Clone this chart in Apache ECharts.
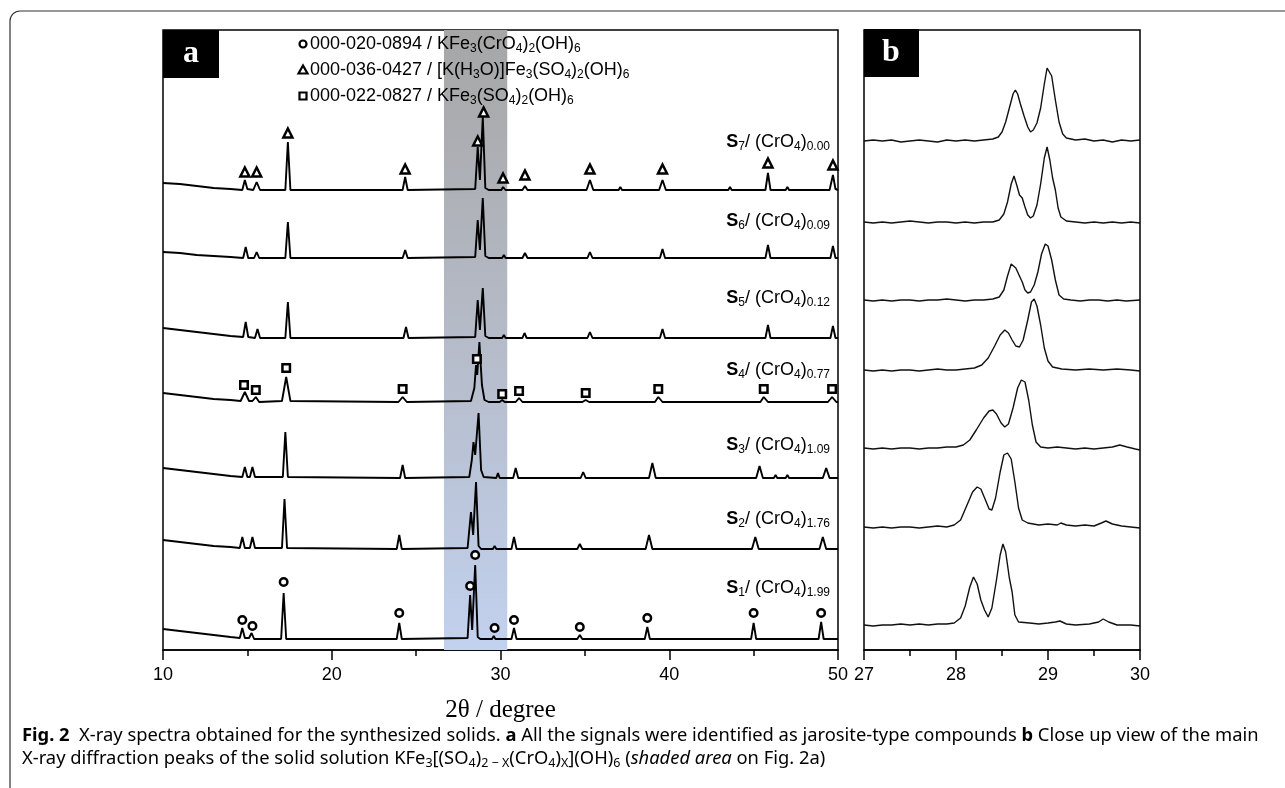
<!DOCTYPE html>
<html><head><meta charset="utf-8">
<script src="https://cdn.jsdelivr.net/npm/echarts@6/dist/echarts.min.js"></script>
<style>html,body{margin:0;padding:0;background:#fff}#c{width:1285px;height:788px}</style>
</head><body><div id="c"></div>
<script>
// ---------- Panel a: full patterns (2θ, stacked intensity a.u.) ----------
const s7a = [[10,467],[11,466],[12,464],[13,462],[14,461],[14.7,460],[14.85,470],[15.0,461],[15.35,460],[15.55,468],[15.75,460],[17.25,460],[17.4,508],[17.55,460],[22,460],[24.2,460],[24.35,473],[24.5,460],[28.5,461],[28.65,503],[28.78,470],[28.95,533],[29.1,462],[29.3,460],[30.05,460],[30.15,463],[30.3,460],[31.3,460],[31.45,464],[31.6,460],[35.1,460],[35.3,470],[35.5,460],[37.0,460],[37.1,463],[37.2,460],[39.4,460],[39.6,470],[39.8,460],[43.5,460],[43.6,463],[43.7,460],[45.7,460],[45.85,477],[46.0,460],[46.9,460],[47.0,463],[47.1,460],[49.5,460],[49.7,475],[49.85,461],[50,460]];
const s6a = [[10,398],[11,397],[12,395],[13,394],[14,393],[14.75,392],[14.9,403],[15.05,392],[15.4,392],[15.55,398],[15.7,392],[17.25,392],[17.4,428],[17.55,392],[24.2,392],[24.35,400],[24.5,392],[28.5,393],[28.65,430],[28.78,400],[28.95,452],[29.1,394],[29.3,392],[30.1,392],[30.2,395],[30.3,392],[31.3,392],[31.45,397],[31.6,392],[35.15,392],[35.3,398],[35.45,392],[37.0,392],[37.1,394],[37.2,392],[39.45,392],[39.6,401],[39.75,392],[45.7,392],[45.85,405],[46.0,392],[46.9,392],[47.0,394],[47.1,392],[49.55,392],[49.7,404],[49.85,392],[50,392]];
const s5a = [[10,322],[11,320],[12,318],[13,316],[14,314],[14.75,313],[14.9,328],[15.05,313],[15.45,312],[15.6,321],[15.75,312],[17.25,312],[17.4,348],[17.55,312],[24.25,312],[24.4,323],[24.55,312],[28.5,313],[28.65,350],[28.78,320],[28.95,362],[29.1,314],[29.3,312],[30.1,312],[30.2,315],[30.3,312],[31.3,312],[31.42,317],[31.55,312],[35.15,312],[35.3,318],[35.45,312],[39.45,312],[39.6,321],[39.75,312],[45.7,312],[45.85,325],[46.0,312],[46.9,312],[47.0,314],[47.1,312],[49.55,312],[49.7,324],[49.85,312],[50,312]];
const s4a = [[10,257],[11,255],[12,253],[13,251],[14,250],[14.6,249],[14.85,258],[15.1,249],[15.3,249],[15.5,253],[15.7,248],[17.05,249],[17.3,273],[17.55,249],[23.95,248],[24.2,253],[24.45,248],[28.25,249],[28.45,262],[28.55,285],[28.62,275],[28.75,308],[28.9,265],[29.05,250],[29.3,248],[29.95,248],[30.1,250],[30.25,248],[30.9,248],[31.1,252],[31.3,248],[34.85,248],[35.05,250],[35.25,248],[39.15,248],[39.35,253],[39.6,248],[45.4,248],[45.6,253],[45.85,248],[49.4,248],[49.65,253],[49.9,248],[50,248]];
const s3a = [[10,182],[11,180],[12,178],[13,176],[14,174],[14.7,173],[14.85,183],[15.0,173],[15.15,173],[15.3,183],[15.45,173],[17.1,173],[17.25,218],[17.4,173],[24.05,172],[24.2,185],[24.35,172],[28.15,173],[28.3,190],[28.4,208],[28.5,195],[28.7,237],[28.85,180],[29.0,173],[29.75,172],[29.85,177],[29.95,172],[30.75,172],[30.9,182],[31.05,172],[34.75,172],[34.9,178],[35.05,172],[38.8,172],[39.0,187],[39.2,172],[45.15,172],[45.35,184],[45.55,172],[46.2,172],[46.3,175],[46.4,172],[46.9,172],[47.0,175],[47.1,172],[49.1,172],[49.3,182],[49.5,172],[50,172]];
const s2a = [[10,110],[11,108],[12,106],[13,104],[14,103],[14.55,102],[14.7,113],[14.85,102],[15.15,102],[15.3,113],[15.45,102],[17.05,102],[17.2,151],[17.35,102],[23.85,101],[24.0,115],[24.15,101],[28.05,102],[28.25,138],[28.38,115],[28.55,168],[28.7,104],[28.85,101],[29.55,101],[29.65,104],[29.75,101],[30.65,101],[30.8,113],[30.95,101],[34.55,101],[34.7,106],[34.85,101],[38.6,101],[38.8,115],[39.0,101],[44.9,101],[45.1,113],[45.3,101],[46.1,101],[46.2,103],[46.3,101],[46.9,101],[47.0,103],[47.1,101],[48.9,101],[49.1,113],[49.3,101],[50,101]];
const s1a = [[10,21],[11,19],[12,17],[13,15],[14,13],[14.55,12],[14.7,22],[14.85,12],[15.1,12],[15.25,17],[15.4,11],[17.0,11],[17.15,57],[17.3,11],[23.85,11],[24.0,27],[24.15,11],[28.05,12],[28.2,55],[28.32,20],[28.5,85],[28.65,13],[28.8,11],[29.5,11],[29.6,14],[29.7,11],[30.65,11],[30.8,22],[30.95,11],[34.55,11],[34.7,15],[34.85,11],[38.55,11],[38.7,23],[38.85,11],[44.85,11],[45.0,27],[45.15,11],[48.85,11],[49.0,28],[49.15,11],[50,11]];

// Reflection markers (phase identification)
const triMarks = [[14.85,478],[15.55,478],[17.4,517],[24.35,481],[28.65,509],[29.0,538],[30.15,472],[31.45,475],[35.3,481],[39.6,481],[45.85,487],[49.7,485]];
const sqMarks = [[14.8,265],[15.5,260],[17.3,282],[24.2,261],[28.6,291],[30.1,256],[31.1,259],[35.05,257],[39.35,261],[45.6,261],[49.65,261]];
const circMarks = [[14.7,30],[15.3,24],[17.15,68],[24.0,37],[28.2,64],[28.5,95],[29.65,22],[30.8,30],[34.7,23],[38.7,32],[45.0,37],[49.0,37]];

// ---------- Panel b: close-up 27–30° ----------
const s7b = [[27.0,509],[27.1,510],[27.2,509],[27.3,510],[27.4,508],[27.5,509],[27.6,510],[27.7,509],[27.8,508],[27.9,510],[28.0,509],[28.1,510],[28.2,509],[28.3,510],[28.4,511],[28.46,513],[28.5,518],[28.54,528],[28.58,542],[28.62,556],[28.645,560],[28.67,556],[28.7,546],[28.74,534],[28.78,523],[28.81,518],[28.84,520],[28.88,527],[28.92,542],[28.96,566],[28.99,582],[29.01,584],[29.04,574],[29.08,550],[29.12,528],[29.16,516],[29.2,512],[29.3,510],[29.4,511],[29.5,509],[29.6,510],[29.7,508],[29.8,510],[29.9,509],[30.0,510]];
const s6b = [[27.0,428],[27.1,427],[27.2,428],[27.3,427],[27.4,428],[27.5,429],[27.6,428],[27.7,427],[27.8,428],[27.9,428],[28.0,427],[28.1,428],[28.2,427],[28.3,428],[28.4,428],[28.47,430],[28.52,436],[28.56,448],[28.6,466],[28.63,474],[28.66,465],[28.69,455],[28.72,452],[28.75,443],[28.78,435],[28.81,432],[28.84,434],[28.88,445],[28.92,466],[28.96,492],[28.99,503],[29.02,490],[29.05,472],[29.08,460],[29.11,442],[29.14,433],[29.2,429],[29.3,428],[29.4,427],[29.5,428],[29.6,427],[29.7,428],[29.8,427],[29.9,428],[30.0,427]];
const s5b = [[27.0,350],[27.1,349],[27.2,350],[27.3,349],[27.4,350],[27.5,350],[27.6,349],[27.7,350],[27.8,350],[27.9,351],[28.0,350],[28.1,349],[28.2,350],[28.3,350],[28.4,351],[28.47,353],[28.52,360],[28.56,374],[28.6,386],[28.62,388],[28.65,382],[28.69,374],[28.72,368],[28.75,360],[28.78,357],[28.81,358],[28.85,365],[28.89,378],[28.93,396],[28.97,406],[29.0,404],[29.04,390],[29.08,370],[29.12,355],[29.17,351],[29.25,350],[29.35,349],[29.45,350],[29.55,350],[29.65,349],[29.75,350],[29.85,349],[30.0,350]];
const s4b = [[27.0,280],[27.1,279],[27.2,280],[27.3,279],[27.4,280],[27.5,280],[27.6,279],[27.7,280],[27.8,281],[27.9,280],[28.0,280],[28.1,281],[28.2,282],[28.28,285],[28.35,292],[28.42,304],[28.48,315],[28.53,320],[28.57,317],[28.61,310],[28.65,304],[28.69,303],[28.73,310],[28.78,330],[28.82,348],[28.85,351],[28.88,344],[28.92,325],[28.96,302],[29.0,289],[29.05,283],[29.15,281],[29.3,280],[29.45,281],[29.6,280],[29.75,281],[29.9,280],[30.0,279]];
const s3b = [[27.0,202],[27.1,201],[27.2,202],[27.3,201],[27.4,202],[27.5,202],[27.6,201],[27.7,202],[27.8,202],[27.9,203],[28.0,203],[28.08,205],[28.15,210],[28.22,220],[28.3,232],[28.36,239],[28.4,240],[28.44,236],[28.49,227],[28.53,223],[28.57,226],[28.62,242],[28.67,262],[28.71,270],[28.75,268],[28.79,250],[28.83,225],[28.87,208],[28.92,203],[29.0,202],[29.1,203],[29.2,202],[29.3,201],[29.4,202],[29.5,201],[29.6,202],[29.7,203],[29.78,205],[29.86,203],[29.95,201],[30.0,200]];
const s2b = [[27.0,123],[27.1,122],[27.2,123],[27.3,122],[27.4,123],[27.5,123],[27.6,122],[27.7,123],[27.8,124],[27.9,123],[27.98,125],[28.05,130],[28.12,145],[28.18,158],[28.23,163],[28.27,161],[28.32,150],[28.36,141],[28.39,140],[28.43,152],[28.48,178],[28.52,195],[28.56,197],[28.6,191],[28.64,168],[28.68,142],[28.72,130],[28.78,127],[28.9,125],[29.0,126],[29.1,125],[29.14,127],[29.2,125],[29.3,124],[29.4,125],[29.5,124],[29.58,127],[29.63,129],[29.7,126],[29.8,124],[29.9,123],[30.0,122]];
const s1b = [[27.0,25],[27.1,24],[27.2,25],[27.3,25],[27.4,26],[27.5,25],[27.6,26],[27.7,25],[27.8,26],[27.9,26],[27.98,27],[28.05,32],[28.1,44],[28.15,63],[28.19,73],[28.23,66],[28.27,50],[28.31,40],[28.35,33],[28.39,42],[28.44,70],[28.48,95],[28.51,106],[28.54,98],[28.58,72],[28.61,58],[28.64,35],[28.68,28],[28.8,27],[28.9,26],[29.0,27],[29.08,28],[29.13,29],[29.2,26],[29.3,25],[29.45,26],[29.55,28],[29.6,31],[29.66,28],[29.75,25],[29.9,25],[30.0,24]];

// Labels
const sampleIdx = ['1','2','3','4','5','6','7'];
const chromate = ['1.99','1.76','1.09','0.77','0.12','0.09','0.00'];
const labelY = [588, 519, 445, 370, 298, 221, 142];
const legendRows = [
  {sym:'circle', code:'000-020-0894', f:'{n|KFe}{s|3}{n|(CrO}{s|4}{n|)}{s|2}{n|(OH)}{s|6}'},
  {sym:'triangle', code:'000-036-0427', f:'{n|[K(H}{s|3}{n|O)]Fe}{s|3}{n|(SO}{s|4}{n|)}{s|2}{n|(OH)}{s|6}'},
  {sym:'rect', code:'000-022-0827', f:'{n|KFe}{s|3}{n|(SO}{s|4}{n|)}{s|2}{n|(OH)}{s|6}'}
];
const legendY = [44, 70, 96];
const bandRange = [26.65, 30.4];

const SANS = "'Liberation Sans', Arial, sans-serif";
const SERIF = "'Liberation Serif', 'Times New Roman', serif";
const sub = {n:{fontSize:18, fontFamily:SANS, color:'#000'}, s:{fontSize:12, fontFamily:SANS, color:'#000', padding:[10,0,0,0]}, b:{fontSize:18, fontFamily:SANS, fontWeight:'bold', color:'#000'}};

const chart = echarts.init(document.getElementById('c'), null, {renderer:'canvas'});

const lineA = (d) => ({type:'line', xAxisIndex:0, yAxisIndex:0, data:d, showSymbol:false, symbol:'none', z:3,
  lineStyle:{color:'#000', width:1.9}, animation:false, silent:true});
const lineB = (d) => ({type:'line', xAxisIndex:1, yAxisIndex:1, data:d, showSymbol:false, symbol:'none', z:3,
  lineStyle:{color:'#111', width:1.4}, animation:false, silent:true});
const marks = (d, sym, size) => ({type:'scatter', xAxisIndex:0, yAxisIndex:0, data:d, symbol:sym, symbolSize:size, z:4,
  itemStyle:{color:'#fff', borderColor:'#000', borderWidth:2.5, opacity:1}, animation:false, silent:true, clip:false});

const xAxisCommon = {
  axisLine:{show:true, lineStyle:{color:'#000', width:1.5}},
  axisTick:{show:true, inside:false, length:10, lineStyle:{color:'#000', width:1.5}},
  minorTick:{show:true, splitNumber:2, length:6, lineStyle:{color:'#000', width:1.5}},
  splitLine:{show:false},
  axisLabel:{color:'#000', fontSize:18, fontFamily:SANS, margin:16, showMinLabel:true, showMaxLabel:true}
};

const graphics = [];
// outer figure frame
graphics.push({type:'rect', shape:{x:10, y:11, width:1300, height:900, r:10}, style:{fill:'none', stroke:'#333', lineWidth:1.2}, z:1, silent:true});
// panel tags
graphics.push({type:'rect', shape:{x:163, y:30, width:56, height:48}, style:{fill:'#000'}, z:50});
graphics.push({type:'text', x:191, y:54, style:{text:'a', fill:'#fff', font:"bold 32px "+SERIF, align:'center', verticalAlign:'middle'}, z:51});
graphics.push({type:'rect', shape:{x:864, y:29, width:55, height:48}, style:{fill:'#000'}, z:50});
graphics.push({type:'text', x:891, y:53, style:{text:'b', fill:'#fff', font:"bold 32px "+SERIF, align:'center', verticalAlign:'middle'}, z:51});
// legend
legendRows.forEach((r, i) => {
  const y = legendY[i];
  if (r.sym === 'circle') graphics.push({type:'circle', shape:{cx:303, cy:y, r:3.5}, style:{fill:'#fff', stroke:'#000', lineWidth:2.2}, z:50});
  else if (r.sym === 'triangle') graphics.push({type:'polygon', shape:{points:[[303,y-4.5],[298.5,y+3.5],[307.5,y+3.5]]}, style:{fill:'#fff', stroke:'#000', lineWidth:2.2}, z:50});
  else graphics.push({type:'rect', shape:{x:299.5, y:y-3.5, width:7, height:7}, style:{fill:'#fff', stroke:'#000', lineWidth:2.2}, z:50});
  graphics.push({type:'text', x:310, y:y, style:{text:'{n|'+r.code+' / }'+r.f, rich:sub, align:'left', verticalAlign:'middle'}, z:50});
});
// sample labels
sampleIdx.forEach((k, i) => {
  graphics.push({type:'text', x:830, y:labelY[i], style:{text:'{b|S}{s|'+k+'}{n|/ (CrO}{s|4}{n|)}{s|'+chromate[i]+'}', rich:sub, align:'right', verticalAlign:'middle'}, z:50});
});
// caption
const CF = "'Noto Sans', sans-serif";
const CS = 18.35;
const cap = {
  n:{fontSize:CS, fontFamily:CF, color:'#231f20'},
  b:{fontSize:CS, fontFamily:CF, color:'#231f20', fontWeight:'bold'},
  i:{fontSize:CS, fontFamily:CF, color:'#231f20', fontStyle:'italic'},
  l:{fontSize:CS, fontFamily:CF, color:'#2a6ebb'},
  s:{fontSize:12.5, fontFamily:CF, color:'#231f20', padding:[9,0,0,0]}
};
graphics.push({type:'text', x:22, y:736, style:{text:'{b|Fig. 2}{n|  X-ray spectra obtained for the synthesized solids. }{b|a}{n| All the signals were identified as jarosite-type compounds }{b|b}{n| Close up view of the main}', rich:cap, align:'left', verticalAlign:'middle'}, z:50});
graphics.push({type:'text', x:22, y:759, style:{text:'{n|X-ray diffraction peaks of the solid solution KFe}{s|3}{n|[(SO}{s|4}{n|)}{s|2 − X}{n|(CrO}{s|4}{n|)}{s|X}{n|](OH)}{s|6}{n| (}{i|shaded area}{n| on Fig. }{l|2a}{n|)}', rich:cap, align:'left', verticalAlign:'middle'}, z:50});

const option = {
  animation:false,
  backgroundColor:'#fff',
  grid:[
    {left:163, right:447, top:30, bottom:138, show:true, borderColor:'#000', borderWidth:1.5, backgroundColor:'transparent'},
    {left:864, right:145, top:30, bottom:138, show:true, borderColor:'#000', borderWidth:1.5, backgroundColor:'transparent'}
  ],
  xAxis:[
    Object.assign({type:'value', gridIndex:0, min:10, max:50, interval:10,
      name:'2θ / degree', nameLocation:'middle', nameGap:48,
      nameTextStyle:{fontFamily:SERIF, fontSize:25, color:'#000'}}, xAxisCommon),
    Object.assign({type:'value', gridIndex:1, min:27, max:30, interval:1}, xAxisCommon)
  ],
  yAxis:[
    {type:'value', gridIndex:0, min:0, max:620, show:false},
    {type:'value', gridIndex:1, min:0, max:620, show:false}
  ],
  series:[
    {type:'line', xAxisIndex:0, yAxisIndex:0, data:[], z:1, silent:true,
      markArea:{silent:true, z:1, itemStyle:{color:{type:'linear', x:0, y:0, x2:0, y2:1, colorStops:[
        {offset:0, color:'#a6a6a6'}, {offset:0.5, color:'#b5bbc8'}, {offset:1, color:'#c2d1ee'}]}},
        data:[[{xAxis:bandRange[0]}, {xAxis:bandRange[1]}]]}},
    lineA(s1a), lineA(s2a), lineA(s3a), lineA(s4a), lineA(s5a), lineA(s6a), lineA(s7a),
    marks(circMarks, 'circle', 7.5), marks(triMarks, 'triangle', 9), marks(sqMarks, 'rect', 7.5),
    lineB(s1b), lineB(s2b), lineB(s3b), lineB(s4b), lineB(s5b), lineB(s6b), lineB(s7b)
  ],
  graphic:graphics
};
chart.setOption(option);
</script></body></html>
